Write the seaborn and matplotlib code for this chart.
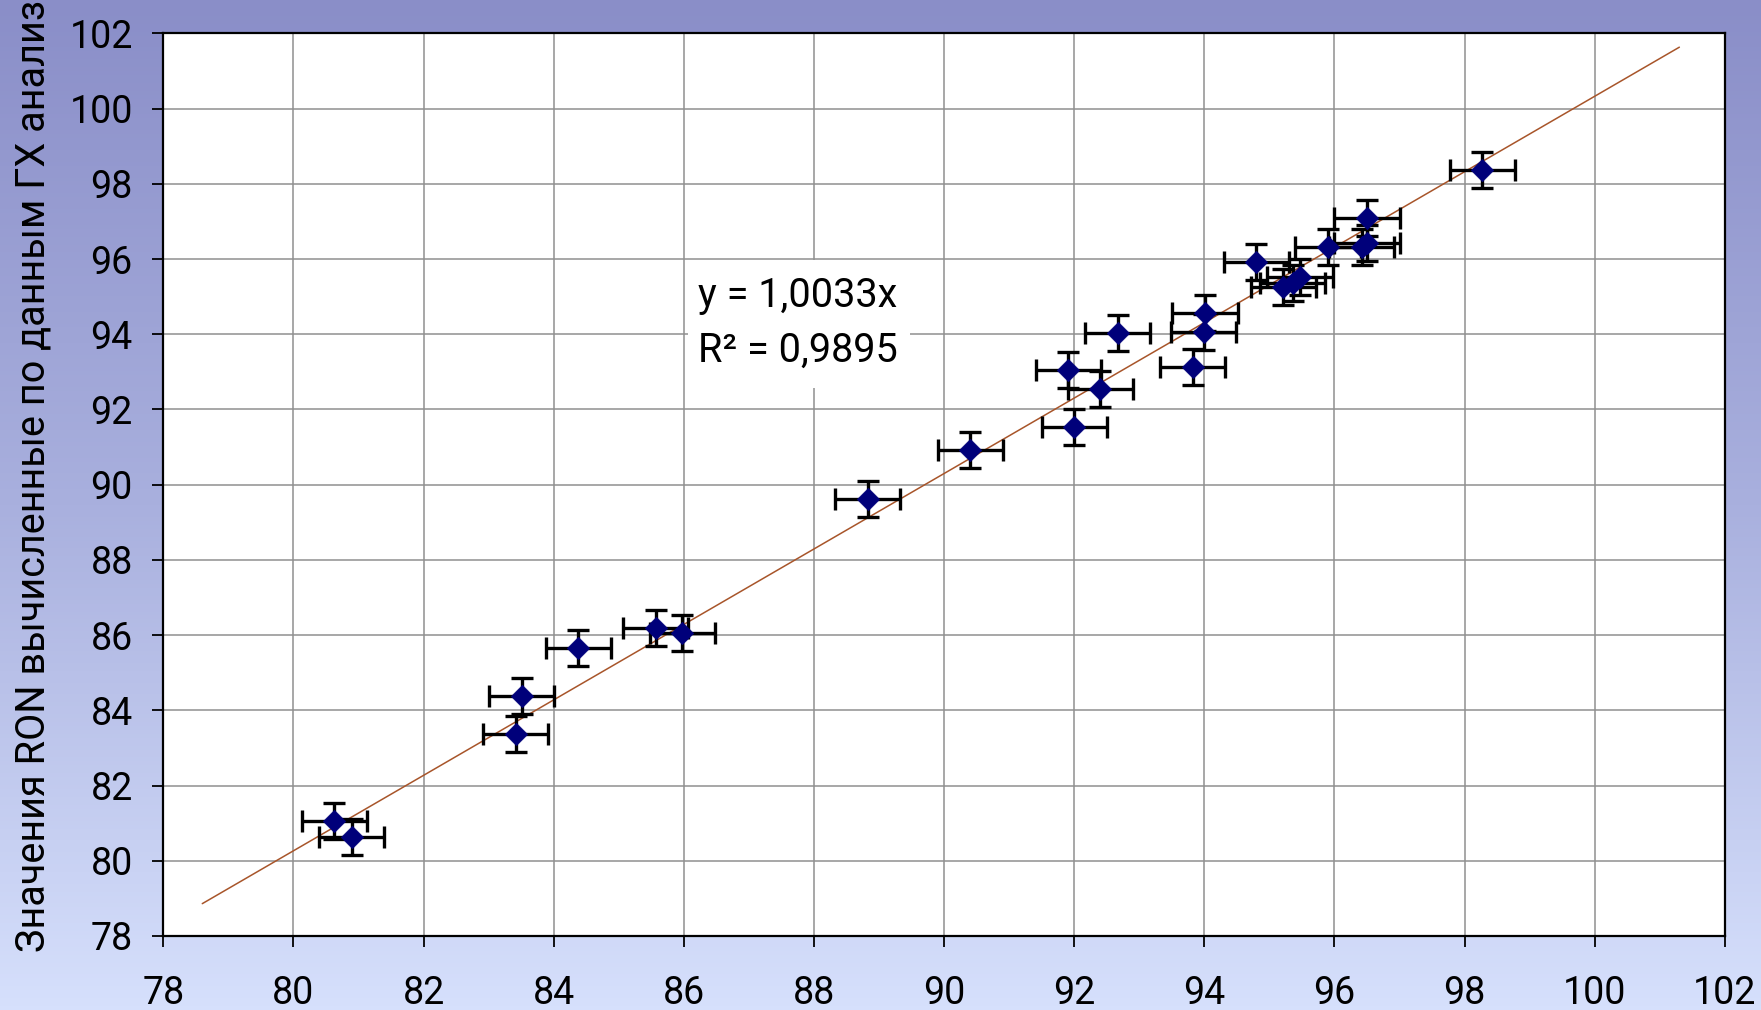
import numpy as np
import pandas as pd
import matplotlib
matplotlib.use("Agg")
import matplotlib.pyplot as plt
import seaborn as sns
from matplotlib.colors import LinearSegmentedColormap
from matplotlib.patches import Rectangle

# ---- data ----
ron_ref = [80.63, 80.90, 83.42, 83.51, 84.38, 85.57, 85.98, 88.83, 90.40, 92.00,
           91.91, 92.40, 92.67, 93.82, 93.99, 94.01, 94.80, 95.21, 95.36, 95.47,
           95.90, 96.42, 96.50, 96.50, 98.27]
ron_gc = [81.06, 80.63, 83.37, 84.38, 85.66, 86.19, 86.06, 89.62, 90.92, 91.53,
          93.05, 92.55, 94.03, 93.13, 94.06, 94.57, 95.92, 95.26, 95.36, 95.52,
          96.32, 96.32, 96.43, 97.09, 98.37]
x_err = [0.5] * len(ron_ref)
y_err = [0.48] * len(ron_ref)
slope = 1.0033
trend_x = [78.6, 101.3]
x_ticks = list(range(78, 103, 2))
y_ticks = list(range(78, 103, 2))
y_label = "Значения RON вычисленные по данным ГХ анализа"
eq_text = "y = 1,0033x"
r2_text = "R\u00b2 = 0,9895"

df = pd.DataFrame({"ref": ron_ref, "gc": ron_gc, "xe": x_err, "ye": y_err})
trend = pd.DataFrame({"x": trend_x, "y": [slope * v for v in trend_x]})

sns.set_theme(style="white")
plt.rcParams['font.family'] = ['Roboto', 'DejaVu Sans']

fig = plt.figure(figsize=(17.61, 10.10), dpi=100)

# gradient background
bg = fig.add_axes([0, 0, 1, 1], zorder=-10)
grad = np.linspace(0, 1, 256).reshape(-1, 1)
cmap = LinearSegmentedColormap.from_list('bg', ['#8A8EC8', '#A9B0DE', '#D6E0FC'])
bg.imshow(grad, aspect='auto', cmap=cmap, extent=[0, 1, 0, 1], origin='upper')
bg.axis('off')

ax = fig.add_axes([0.0927, 0.0733, 0.8868, 0.8936])
ax.set_facecolor('white')

ax.errorbar(df["ref"], df["gc"], xerr=df["xe"], yerr=df["ye"], fmt='none',
            ecolor='black', elinewidth=2.4, capsize=8, capthick=2.4, zorder=3)
sns.lineplot(data=trend, x="x", y="y", ax=ax, color='#A8552A', linewidth=1.1,
             zorder=2.5)
sns.scatterplot(data=df, x="ref", y="gc", ax=ax, marker='D', s=130,
                color='#00007A', edgecolor='#00007A', linewidth=0.5, zorder=4)

ax.set_xlim(78, 102)
ax.set_ylim(78, 102)
ax.set_xticks(x_ticks)
ax.set_yticks(y_ticks)
ax.set_xlabel("")
ax.set_ylabel("")
ax.set_axisbelow(True)
ax.grid(True, color='#8f8f8f', linewidth=1.1)

for s in ax.spines.values():
    s.set_visible(True)
    s.set_color('black')
    s.set_linewidth(1.6)

ax.tick_params(axis='both', which='major', direction='out', length=8, width=1.3,
               colors='black', labelcolor='black', labelsize=27,
               bottom=True, left=True)
ax.tick_params(axis='x', pad=20)
ax.tick_params(axis='y', pad=14)

# white box behind equation
ax.add_patch(Rectangle((0.336, 0.607), 0.142, 0.142, transform=ax.transAxes,
                       facecolor='white', edgecolor='none', zorder=1.5))
ax.text(0.3424, 0.697, eq_text, transform=ax.transAxes, fontsize=28.5,
        ha='left', va='baseline', color='black', zorder=5)
ax.text(0.3424, 0.636, r2_text, transform=ax.transAxes, fontsize=28.5,
        ha='left', va='baseline', color='black', zorder=5)

fig.text(33 / 1761, 0.0574, y_label, rotation=90, ha='center', va='bottom',
         fontsize=28.5, color='black')

fig.savefig("out.png", dpi=100)
